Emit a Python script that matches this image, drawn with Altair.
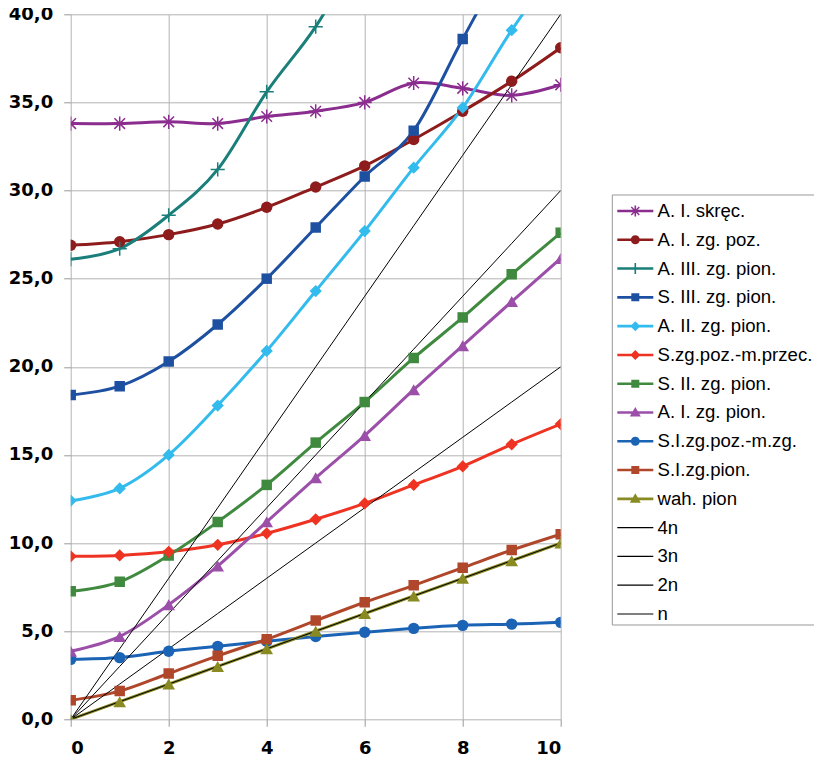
import altair as alt
import pandas as pd

x_vals = [0, 1, 2, 3, 4, 5, 6, 7, 8, 9, 10]

names = ["A. I. skręc.", "A. I. zg. poz.", "A. III. zg. pion.", "S. III. zg. pion.",
         "A. II. zg. pion.", "S.zg.poz.-m.przec.", "S. II. zg. pion.", "A. I. zg. pion.",
         "S.I.zg.poz.-m.zg.", "S.I.zg.pion.", "wah. pion", "4n", "3n", "2n", "n"]

colors = ["#8B2D8F", "#8E1C1C", "#1A7F7A", "#1E50A2", "#33BBEE", "#EE3322", "#3F8A3F",
          "#9B4FA8", "#1B63B5", "#B0472A", "#8A8A22", "#000000", "#000000", "#000000", "#000000"]

a1_skrec = [33.8, 33.8, 33.9, 33.8, 34.2, 34.5, 35.0, 36.1, 35.8, 35.4, 36.0]
a1_zg_poz = [26.9, 27.1, 27.5, 28.1, 29.05, 30.2, 31.4, 32.9, 34.5, 36.2, 38.1]
a3_zg_pion = [26.1, 26.7, 28.6, 31.2, 35.6, 39.3, 44.0, 48.5, 53.0, 57.5, 62.0]
s3_zg_pion = [18.4, 18.9, 20.3, 22.4, 25.0, 27.9, 30.8, 33.4, 38.6, 43.5, 47.0]
a2_zg_pion = [12.4, 13.1, 15.0, 17.8, 20.9, 24.3, 27.7, 31.3, 34.7, 39.1, 43.0]
s_zg_poz_m_przec = [9.25, 9.3, 9.5, 9.9, 10.55, 11.35, 12.25, 13.3, 14.35, 15.6, 16.75]
s2_zg_pion = [7.26, 7.8, 9.3, 11.2, 13.3, 15.7, 18.0, 20.5, 22.8, 25.25, 27.6]
a1_zg_pion = [3.86, 4.7, 6.5, 8.7, 11.2, 13.7, 16.1, 18.7, 21.2, 23.7, 26.15]
s1_zg_poz_m_zg = [3.4, 3.5, 3.86, 4.14, 4.43, 4.7, 4.94, 5.16, 5.33, 5.4, 5.5]
s1_zg_pion = [1.08, 1.6, 2.6, 3.6, 4.54, 5.6, 6.64, 7.6, 8.6, 9.6, 10.5]
wah_pion = [0, 1, 2, 3, 4, 5, 6, 7, 8, 9, 10]
line_4n = [0, 4, 8, 12, 16, 20, 24, 28, 32, 36, 40]
line_3n = [0, 3, 6, 9, 12, 15, 18, 21, 24, 27, 30]
line_2n = [0, 2, 4, 6, 8, 10, 12, 14, 16, 18, 20]
line_n = [0, 1, 2, 3, 4, 5, 6, 7, 8, 9, 10]

series_values = [a1_skrec, a1_zg_poz, a3_zg_pion, s3_zg_pion, a2_zg_pion, s_zg_poz_m_przec,
                 s2_zg_pion, a1_zg_pion, s1_zg_poz_m_zg, s1_zg_pion, wah_pion,
                 line_4n, line_3n, line_2n, line_n]

rows = []
for name, vals in zip(names, series_values):
    for xv, yv in zip(x_vals, vals):
        rows.append({"x": xv, "y": yv, "series": name})
df = pd.DataFrame(rows)
leg_df = pd.DataFrame({"leg": names})
box_df = pd.DataFrame({"k": [0]})

curve_names = names[:11]
ref_names = names[11:]

ASTER = "M-1,0L1,0M0,-1L0,1M-0.75,-0.75L0.75,0.75M-0.75,0.75L0.75,-0.75"
PLUS = "M-1,0L1,0M0,-1L0,1"
marker_groups = [
    (["A. I. zg. poz.", "S.I.zg.poz.-m.zg."], "circle", True, 130),
    (["S. III. zg. pion.", "S. II. zg. pion.", "S.I.zg.pion."], "square", True, 110),
    (["A. II. zg. pion.", "S.zg.poz.-m.przec."], "diamond", True, 150),
    (["A. I. zg. pion.", "wah. pion"], "triangle-up", True, 160),
    (["A. I. skręc."], ASTER, False, 200),
    (["A. III. zg. pion."], PLUS, False, 200),
]

# legend symbols (line + marker as filled outlines), 10 px per unit at size 400
BAR = "M-1,-0.13L2.6,-0.13L2.6,0.13L-1,0.13Z"
BAR_THIN = "M-1,-0.06L2.6,-0.06L2.6,0.06L-1,0.06Z"
VBAR = "M0.72,-0.55L0.88,-0.55L0.88,0.55L0.72,0.55Z"
DIAG1 = "M0.45,-0.45L1.25,0.35L1.15,0.45L0.35,-0.35Z"
DIAG2 = "M0.35,0.35L1.15,-0.45L1.25,-0.35L0.45,0.45Z"
L_CIRCLE = BAR + "M0.35,0A0.45,0.45,0,1,1,1.25,0A0.45,0.45,0,1,1,0.35,0Z"
L_SQUARE = BAR + "M0.4,-0.4L1.2,-0.4L1.2,0.4L0.4,0.4Z"
L_DIAMOND = BAR + "M0.8,-0.5L1.3,0L0.8,0.5L0.3,0Z"
L_TRI = BAR + "M0.8,-0.55L1.35,0.4L0.25,0.4Z"
L_ASTER = BAR + VBAR + DIAG1 + DIAG2
L_PLUS = BAR + VBAR
legend_paths = [L_ASTER, L_CIRCLE, L_PLUS, L_SQUARE, L_DIAMOND, L_DIAMOND, L_SQUARE, L_TRI,
                L_CIRCLE, L_SQUARE, L_TRI, BAR_THIN, BAR_THIN, BAR_THIN, BAR_THIN]

x_enc = alt.X("x:Q", title=None,
              scale=alt.Scale(domain=[0, 10], nice=False, zero=False),
              axis=alt.Axis(values=[0, 2, 4, 6, 8, 10], labelFont="DejaVu Sans",
                            labelFontSize=18, labelFontWeight="bold", labelColor="black",
                            tickColor="#999999", tickSize=7, domain=False,
                            gridColor="#b3b3b3", labelPadding=13))
y_enc = alt.Y("y:Q", title=None,
              scale=alt.Scale(domain=[0, 40], nice=False, zero=False),
              axis=alt.Axis(values=[0, 5, 10, 15, 20, 25, 30, 35, 40],
                            labelExpr="replace(format(datum.value, '.1f'), '.', ',')",
                            labelFont="DejaVu Sans", labelFontSize=18,
                            labelFontWeight="bold", labelColor="black",
                            tickColor="#999999", tickSize=7, domain=False,
                            gridColor="#b3b3b3", labelPadding=11))
color_enc = alt.Color("series:N", scale=alt.Scale(domain=names, range=colors), legend=None)

base = alt.Chart(df)

curves = base.transform_filter(
    alt.FieldOneOfPredicate(field="series", oneOf=curve_names)
).mark_line(interpolate="cardinal", strokeWidth=3, clip=True).encode(
    x=x_enc, y=y_enc, color=color_enc)

refs = base.transform_filter(
    alt.FieldOneOfPredicate(field="series", oneOf=ref_names)
).mark_line(strokeWidth=1, clip=True).encode(
    x=x_enc, y=y_enc, color=color_enc)

point_layers = []
for group, shape, filled, size in marker_groups:
    point_layers.append(
        base.transform_filter(
            alt.FieldOneOfPredicate(field="series", oneOf=group)
        ).mark_point(shape=shape, filled=filled, size=size, opacity=1,
                     strokeWidth=1.5, clip=True).encode(
            x=x_enc, y=y_enc, color=color_enc)
    )

main = alt.layer(curves, refs, *point_layers)

# legend drawn from its own scales
leg_y = alt.Y("leg:N", sort=names, title=None, axis=None,
              scale=alt.Scale(domain=names, range=[196.7, 599.7], padding=0))

legend_box = alt.Chart(box_df).mark_rect(fill="white", stroke="#999999", strokeWidth=1).encode(
    x=alt.value(541.6), x2=alt.value(800), y=alt.value(180.7), y2=alt.value(610.7))

legend_symbols = alt.Chart(leg_df).mark_point(filled=True, opacity=1, size=400).encode(
    x=alt.value(556.6), y=leg_y,
    fill=alt.Fill("leg:N", scale=alt.Scale(domain=names, range=colors), legend=None),
    shape=alt.Shape("leg:N", scale=alt.Scale(domain=names, range=legend_paths), legend=None),
)

legend_labels = alt.Chart(leg_df).mark_text(
    align="left", baseline="middle", font="Liberation Sans", fontSize=18.6, color="black"
).encode(x=alt.value(586.8), y=leg_y, text="leg:N")

legend = alt.layer(legend_box, legend_symbols, legend_labels)

chart = alt.layer(main, legend).resolve_scale(y="independent").properties(
    width=490, height=705,
    autosize=alt.AutoSizeParams(type="none"),
    padding={"left": 62.7, "top": 6.3, "right": 253.3, "bottom": 38},
).configure_view(strokeWidth=0)

chart.save("out.html", embed_options={"renderer": "svg", "actions": False})
